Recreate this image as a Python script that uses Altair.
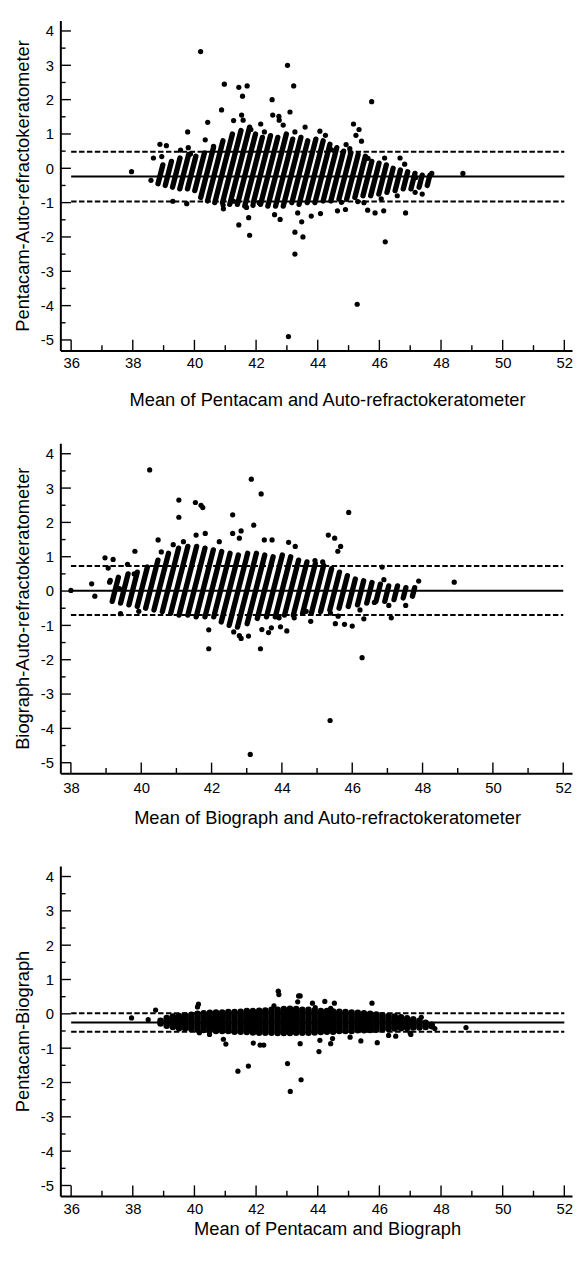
import altair as alt
import pandas as pd

FONT = "Liberation Sans"
W, H = 518, 334
Y_DOMAIN = [-5.305, 4.305]

# ---------------- tick labels ----------------
x_major_a = [36, 38, 40, 42, 44, 46, 48, 50, 52]
x_minor_a = [37, 39, 41, 43, 45, 47, 49, 51]
x_major_b = [38, 40, 42, 44, 46, 48, 50, 52]
x_minor_b = [39, 41, 43, 45, 47, 49, 51]
y_major = [-5, -4, -3, -2, -1, 0, 1, 2, 3, 4]
y_minor = [-4.5, -3.5, -2.5, -1.5, -0.5, 0.5, 1.5, 2.5, 3.5]

# ---------------- panel 1: Pentacam vs Auto-refractokeratometer ----------------
p1_x = [37.96, 38.59, 38.67, 38.88, 39.09, 38.94, 39.30, 39.75, 39.78, 39.80, 39.55,
        39.87, 40.35, 40.62,
        40.20, 40.43, 40.88, 40.97, 41.44, 41.56, 41.71, 41.53, 41.27, 41.58, 41.83,
        42.15, 42.27, 42.52, 42.54, 42.74, 42.75, 42.88, 43.02, 43.10, 43.22, 43.26,
        43.59, 44.07, 44.25, 45.16, 45.34, 45.24, 45.42, 45.75, 44.92, 45.04, 44.45,
        46.67, 46.17, 45.63, 46.82, 48.71, 47.70,
        40.94, 40.93, 41.27, 41.44, 41.79, 41.76, 41.69, 41.90, 42.10, 42.60, 42.78,
        43.26, 43.26, 43.52, 43.48, 43.35, 43.79, 44.09, 44.64, 44.90, 44.77, 45.30,
        45.28, 43.05, 45.50, 45.62, 45.86, 46.14, 46.19, 46.06, 46.58, 46.85, 47.16,
        47.39, 47.18]
p1_y = [-0.10, -0.35, 0.30, 0.70, 0.66, 0.34, -0.96, -1.03, 1.06, 0.60, 0.53,
        0.42, 0.83, 0.64,
        3.40, 1.34, 1.70, 2.45, 2.36, 2.10, 2.40, 1.55, 1.39, 1.40, 1.13,
        1.29, 1.06, 2.00, 1.55, 1.51, 1.40, 1.26, 3.00, 1.64, 2.40, 1.06,
        1.20, 1.08, 0.96, 1.29, 1.13, 0.96, 0.79, 1.94, 0.69, 0.57, 0.54,
        0.30, 0.30, 0.29, 0.12, -0.15, -0.15,
        -1.18, -1.07, -0.96, -1.65, -1.95, -1.44, -1.14, -1.08, -1.00, -1.35, -1.49,
        -1.86, -2.50, -2.00, -1.56, -1.30, -1.39, -1.32, -1.24, -1.20, -0.99, -0.97,
        -3.96, -4.90, -1.00, -1.22, -1.30, -1.24, -2.14, -0.89, -0.80, -1.30, -0.70,
        -0.75, -0.27]
# dense streaks of dots: lower end (x1, y1) and upper end (x2, y2) of each streak
s1_x1 = [38.818, 39.054, 39.289, 39.525, 39.775, 40.011, 40.204, 40.425, 40.661, 40.911,
         41.146, 41.396, 41.632, 41.911, 42.146, 42.382, 42.632, 42.882, 43.161, 43.396,
         43.661, 43.911, 44.175, 44.425, 44.689, 44.939, 45.204, 45.468, 45.718, 45.982,
         46.246, 46.511, 46.775, 47.025, 47.289, 47.554]
s1_y1 = [-0.45, -0.5, -0.55, -0.6, -0.6, -0.65, -0.85, -0.95, -1.0, -1.0, -1.05, -1.05,
         -1.1, -1.0, -1.05, -1.1, -1.1, -1.1, -1.0, -1.05, -1.0, -1.0, -0.95, -0.95,
         -0.9, -0.9, -0.85, -0.8, -0.8, -0.75, -0.7, -0.65, -0.6, -0.6, -0.55, -0.5]
s1_x2 = [38.975, 39.254, 39.532, 39.811, 40.046, 40.325, 40.618, 40.925, 41.232, 41.511,
         41.789, 41.982, 42.204, 42.468, 42.704, 42.982, 43.189, 43.454, 43.675, 43.939,
         44.175, 44.396, 44.618, 44.839, 45.075, 45.311, 45.546, 45.754, 45.989, 46.225,
         46.446, 46.682, 46.918, 47.154, 47.389, 47.639]
s1_y2 = [0.1, 0.2, 0.3, 0.4, 0.35, 0.45, 0.6, 0.8, 1.0, 1.1, 1.2, 1.0,
         0.9, 0.95, 0.9, 1.0, 0.85, 0.9, 0.8, 0.85, 0.8, 0.7, 0.6, 0.5,
         0.45, 0.4, 0.35, 0.2, 0.15, 0.1, 0.0, -0.05, -0.1, -0.15, -0.2, -0.2]
r1_mean, r1_upper, r1_lower = -0.24, 0.48, -0.97
r1_start, r1_end = 36, 52

# ---------------- panel 2: Biograph vs Auto-refractokeratometer ----------------
p2_x = [38.00, 38.59, 38.68, 38.97, 39.06, 39.20, 39.12, 39.41, 39.61, 39.82, 39.93,
        39.10, 39.38, 39.80,
        40.24, 40.48, 40.57, 40.91, 41.07, 41.07, 41.20, 41.54, 41.70, 41.75, 41.56,
        41.82, 42.22, 42.60, 42.60, 42.84, 42.79, 43.13, 43.20, 43.41, 43.50, 43.72,
        44.19, 44.38, 45.32, 45.50, 45.59, 45.67, 45.90, 44.94, 45.16, 46.85, 46.90,
        47.89, 48.90, 47.04, 47.11, 47.52, 46.33, 46.22, 46.00, 45.78, 45.52, 46.28,
        45.37, 43.10, 41.92, 41.92, 42.63, 42.79, 42.84, 43.05, 43.39, 43.43, 43.62,
        43.70, 43.96, 44.14, 44.82, 44.69,
        46.63, 45.60, 45.38, 44.35, 43.92]
p2_y = [0.02, 0.21, -0.15, 0.97, 0.67, 0.92, 0.31, -0.66, 0.78, 1.16, -0.59,
        0.26, 0.07, 0.50,
        3.53, 1.49, 1.14, 1.35, 2.65, 2.15, 1.44, 2.58, 2.50, 2.43, 1.63,
        1.68, 1.44, 2.22, 1.68, 1.75, 1.54, 3.26, 1.92, 2.83, 1.49, 1.49,
        1.42, 1.30, 1.63, 1.54, 1.16, 1.30, 2.29, 0.89, 0.85, 0.70, 0.33,
        0.29, 0.26, -0.42, -0.78, -0.42, -0.81, -0.55, -1.02, -0.97, -0.95, -1.94,
        -3.77, -4.76, -1.13, -1.68, -1.19, -1.30, -1.38, -1.31, -1.68, -1.12, -1.21,
        -1.07, -1.04, -1.16, -0.88, -0.59,
        -0.33, -0.73, -0.64, -0.78, -0.78]
s2_x1 = [39.175, 39.4125, 39.65, 39.8875, 40.125, 40.3625, 40.6, 40.8375, 41.075, 41.325,
         41.5625, 41.8125, 42.0625, 42.275, 42.5, 42.7375, 43.0125, 43.3, 43.5625, 43.8125,
         44.075, 44.325, 44.5875, 44.8375, 45.1, 45.3625, 45.625, 45.8875, 46.15, 46.4125,
         46.675, 46.925, 47.1875, 47.45, 47.7125]
s2_y1 = [-0.3, -0.35, -0.4, -0.45, -0.5, -0.55, -0.6, -0.65, -0.7, -0.7, -0.75, -0.75,
         -0.75, -0.9, -1.0, -1.05, -0.95, -0.8, -0.75, -0.75, -0.7, -0.7, -0.65, -0.65,
         -0.6, -0.55, -0.5, -0.45, -0.4, -0.35, -0.3, -0.3, -0.25, -0.2, -0.15]
s2_x2 = [39.35, 39.625, 39.8875, 40.175, 40.475, 40.775, 41.0625, 41.325, 41.575, 41.8125,
         42.05, 42.2875, 42.525, 42.7625, 43.025, 43.275, 43.5125, 43.75, 44.0125, 44.25,
         44.475, 44.7125, 44.95, 45.1875, 45.4125, 45.6375, 45.8625, 46.0875, 46.325, 46.5625,
         46.8, 47.0375, 47.2875, 47.525, 47.775]
s2_y2 = [0.4, 0.5, 0.55, 0.7, 0.9, 1.1, 1.25, 1.3, 1.3, 1.25, 1.2, 1.15,
         1.1, 1.05, 1.1, 1.1, 1.05, 1.0, 1.05, 1.0, 0.9, 0.85, 0.8, 0.75,
         0.65, 0.55, 0.45, 0.35, 0.3, 0.25, 0.2, 0.15, 0.15, 0.1, 0.1]
r2_mean, r2_upper, r2_lower = 0.01, 0.73, -0.70
r2_start, r2_end = 38, 52

# ---------------- panel 3: Pentacam vs Biograph ----------------
p3_x = [37.96, 38.50, 38.74, 40.13, 40.10, 40.16, 40.49, 40.94, 41.02, 41.41, 41.75,
        41.91, 42.13, 42.25, 42.72, 42.74, 42.58, 43.02, 43.11, 43.38, 43.43, 43.35,
        43.43, 43.46, 43.83, 43.92, 44.23, 44.42, 44.54, 44.07, 44.04, 44.42, 44.48,
        45.05, 45.40, 45.76, 45.93, 46.30, 46.53, 47.02, 47.36, 47.80, 48.81, 47.00]
p3_y = [-0.12, -0.17, 0.11, 0.28, 0.20, -0.55, -0.60, -0.74, -0.88, -1.67, -1.52,
        -0.85, -0.91, -0.91, 0.66, 0.56, 0.23, -1.45, -2.26, 0.52, 0.52, 0.35,
        -0.87, -1.92, 0.31, 0.18, 0.36, 0.16, 0.31, -0.77, -1.10, -0.87, -0.72,
        -0.68, -0.79, 0.31, -0.84, -0.63, -0.65, -0.60, -0.10, -0.43, -0.40, -0.56]
# dense cloud: lower / upper edge of the cloud of dots at each mean value
b3_x = [38.9, 39.1, 39.3, 39.5, 39.7, 39.9, 40.1, 40.3, 40.5, 40.7, 40.9, 41.1, 41.3, 41.5, 41.7,
        41.9, 42.1, 42.3, 42.5, 42.7, 42.9, 43.1, 43.3, 43.5, 43.7, 43.9, 44.1, 44.3, 44.5, 44.7,
        44.9, 45.1, 45.3, 45.5, 45.7, 45.9, 46.1, 46.3, 46.5, 46.7, 46.9, 47.1, 47.3, 47.5, 47.7]
b3_lo = [-0.28, -0.35, -0.38, -0.42, -0.42, -0.44, -0.46, -0.47, -0.48, -0.50, -0.50, -0.50, -0.52,
         -0.52, -0.53, -0.54, -0.55, -0.55, -0.55, -0.56, -0.56, -0.56, -0.55, -0.55, -0.55, -0.54,
         -0.53, -0.52, -0.52, -0.50, -0.50, -0.50, -0.48, -0.48, -0.47, -0.46, -0.45, -0.44, -0.43,
         -0.42, -0.41, -0.40, -0.40, -0.38, -0.36]
b3_hi = [-0.20, -0.12, -0.08, -0.06, -0.05, -0.03, 0.00, 0.02, 0.03, 0.04, 0.04, 0.05, 0.05,
         0.06, 0.08, 0.08, 0.09, 0.10, 0.12, 0.12, 0.14, 0.15, 0.14, 0.12, 0.12, 0.10,
         0.08, 0.08, 0.07, 0.06, 0.05, 0.04, 0.03, 0.02, 0.00, -0.02, -0.04, -0.06, -0.08,
         -0.10, -0.13, -0.16, -0.20, -0.26, -0.32]
r3_mean, r3_upper, r3_lower = -0.25, 0.02, -0.52
r3_start, r3_end = 36, 52


def make_panel(px, py, xdom, xmaj, xmin, xtitle, ytitle, ref, ref_x, label_pad, title_y,
               streaks=None, band=None):
    xs = alt.Scale(domain=xdom, nice=False, zero=False)
    ys = alt.Scale(domain=Y_DOMAIN, nice=False, zero=False)
    xaxis = alt.Axis(values=xmaj, title=xtitle, grid=False, ticks=False, tickSize=0,
                     domainColor="black", domainWidth=2, labelFont=FONT, labelFontSize=15,
                     labelColor="black", labelPadding=label_pad, labelFlush=False,
                     labelOverlap=False, format="d", titleFont=FONT, titleFontSize=18.5,
                     titleFontWeight="normal", titleColor="black", titleX=270, titleY=title_y,
                     titleAlign="center", titleBaseline="middle")
    yaxis = alt.Axis(values=y_major, title=ytitle, grid=False, ticks=False, tickSize=0,
                     domainColor="black", domainWidth=2, labelFont=FONT, labelFontSize=15,
                     labelColor="black", labelPadding=7, labelOverlap=False,
                     labelExpr="'' + datum.value", titleFont=FONT, titleFontSize=18.5,
                     titleFontWeight="normal", titleColor="black", titleX=-38, titleY=H / 2,
                     titleAngle=270, titleAlign="center", titleBaseline="middle")

    def X(f):
        return alt.X(f, scale=xs, axis=xaxis)

    def Y(f):
        return alt.Y(f, scale=ys, axis=yaxis)

    layers = []
    layers.append(alt.Chart(pd.DataFrame({"x": px, "y": py})).mark_circle(
        size=28, color="black", opacity=1).encode(x=X("x:Q"), y=Y("y:Q")))
    mean, upper, lower = ref
    ref_df = pd.DataFrame({"x": [ref_x[0]], "x2": [ref_x[1]], "y": [mean]})
    dash_df = pd.DataFrame({"x": [ref_x[0]] * 2, "x2": [ref_x[1]] * 2, "y": [upper, lower]})
    layers.append(alt.Chart(ref_df).mark_rule(strokeWidth=2, color="black").encode(
        x=X("x:Q"), x2="x2:Q", y=Y("y:Q")))
    layers.append(alt.Chart(dash_df).mark_rule(strokeWidth=2, color="black",
                                               strokeDash=[5.5, 2.5]).encode(
        x=X("x:Q"), x2="x2:Q", y=Y("y:Q")))
    if streaks is not None:
        sx1, sy1, sx2, sy2 = streaks
        sdf = pd.DataFrame({"x": sx1, "y": sy1, "x2": sx2, "y2": sy2})
        layers.append(alt.Chart(sdf).mark_rule(strokeWidth=5.4, strokeCap="round",
                                               color="black").encode(
            x=X("x:Q"), y=Y("y:Q"), x2="x2:Q", y2="y2:Q"))
    if band is not None:
        bx, blo, bhi = band
        bdf = pd.DataFrame({"x": bx, "y": blo, "y2": bhi})
        layers.append(alt.Chart(bdf).mark_rule(strokeWidth=6.6, strokeCap="round",
                                               color="black").encode(
            x=X("x:Q"), y=Y("y:Q"), y2="y2:Q"))
    # inward tick marks
    for vals, ln in ((xmaj, 10.7), (xmin, 5.3)):
        layers.append(alt.Chart(pd.DataFrame({"x": vals})).mark_rule(
            strokeWidth=1.4, color="black").encode(
            x=X("x:Q"), y=alt.value(H), y2=alt.value(H - ln)))
    for vals, ln in ((y_major, 10.7), (y_minor, 5.3)):
        layers.append(alt.Chart(pd.DataFrame({"y": vals})).mark_rule(
            strokeWidth=1.4, color="black").encode(
            y=Y("y:Q"), x=alt.value(0), x2=alt.value(ln)))
    return alt.layer(*layers).properties(width=W, height=H)


c1 = make_panel(p1_x, p1_y, [35.65, 52.25], x_major_a, x_minor_a,
                "Mean of Pentacam and Auto-refractokeratometer",
                "Pentacam-Auto-refractokeratometer",
                (r1_mean, r1_upper, r1_lower), (r1_start, r1_end), 5, 50,
                streaks=(s1_x1, s1_y1, s1_x2, s1_y2))
c2 = make_panel(p2_x, p2_y, [37.70, 52.25], x_major_b, x_minor_b,
                "Mean of Biograph and Auto-refractokeratometer",
                "Biograph-Auto-refractokeratometer",
                (r2_mean, r2_upper, r2_lower), (r2_start, r2_end), 8, 45,
                streaks=(s2_x1, s2_y1, s2_x2, s2_y2))
c3 = make_panel(p3_x, p3_y, [35.65, 52.25], x_major_a, x_minor_a,
                "Mean of Pentacam and Biograph",
                "Pentacam-Biograph",
                (r3_mean, r3_upper, r3_lower), (r3_start, r3_end), 6, 33,
                band=(b3_x, b3_lo, b3_hi))

chart = alt.vconcat(c1, c2, c3, spacing=94, bounds="flush").properties(
    padding={"left": 5, "top": 4, "right": 0, "bottom": 0}
).configure(font=FONT, background="white").configure_view(stroke="transparent")

chart.save("out.html", embed_options={"renderer": "svg", "actions": False})
